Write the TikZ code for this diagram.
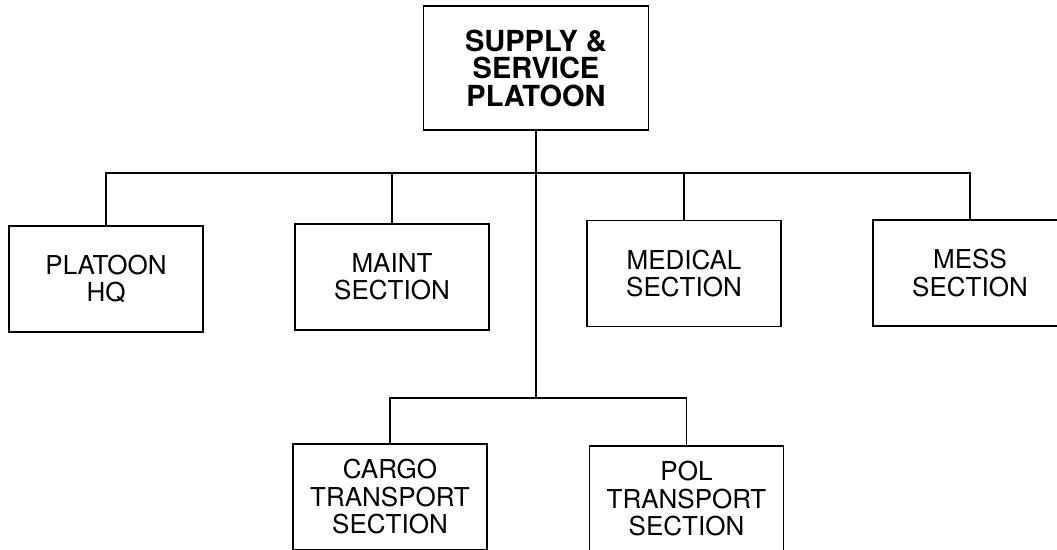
\documentclass[tikz,border=0pt]{standalone}
\usepackage{fontspec}
\setmainfont{TeX Gyre Heros}
\usetikzlibrary{positioning}
\tikzset{
  unit/.style={
    shape = rectangle,
    draw,
    line width = 1.7pt,
    minimum width = 194pt,
    minimum height = 106pt,
    inner sep = 0pt,
    align = center,
    font = \fontsize{26}{27.5}\selectfont
  },
  cmd/.style={
    unit,
    minimum width = 225pt,
    minimum height = 124pt,
    font = \bfseries\fontsize{29}{27.5}\selectfont
  },
  wire/.style={
    line width = 1.5pt
  }
}
\begin{document}
\begin{tikzpicture}[x=1pt,y=1pt]
    \clip (0,0) rectangle (1057,-549);
    % top of the tree
    \node[cmd] (top) at (536,-68) {SUPPLY \&\\SERVICE\\PLATOON};
    % first row
    \node[unit] (hq) at (106,-279) {PLATOON\\HQ};
    \node[unit] (maint) at (392,-277) {MAINT\\SECTION};
    \node[unit] (medical) at (684,-273.5) {MEDICAL\\SECTION};
    \node[unit] (mess) at (970,-273) {MESS\\SECTION};
    % second row
    \node[unit] (cargo) at (390,-497) {CARGO\\TRANSPORT\\SECTION};
    \node[unit] (pol) at (686.5,-499) {POL\\TRANSPORT\\SECTION};
    \coordinate[below=42pt of top.south] (bus);
    \coordinate[below=267pt of top.south] (low);
        \draw[wire] (top.south) -- (low);
        \draw[wire] (hq.north) |- (bus) -| (mess.north);
        \foreach \n in {maint, medical}{
        \draw[wire] (\n.north) -- (\n.north |- bus);
        }
        \draw[wire] (cargo.north) |- (low) -| (pol.north);
\end{tikzpicture}
\end{document}
